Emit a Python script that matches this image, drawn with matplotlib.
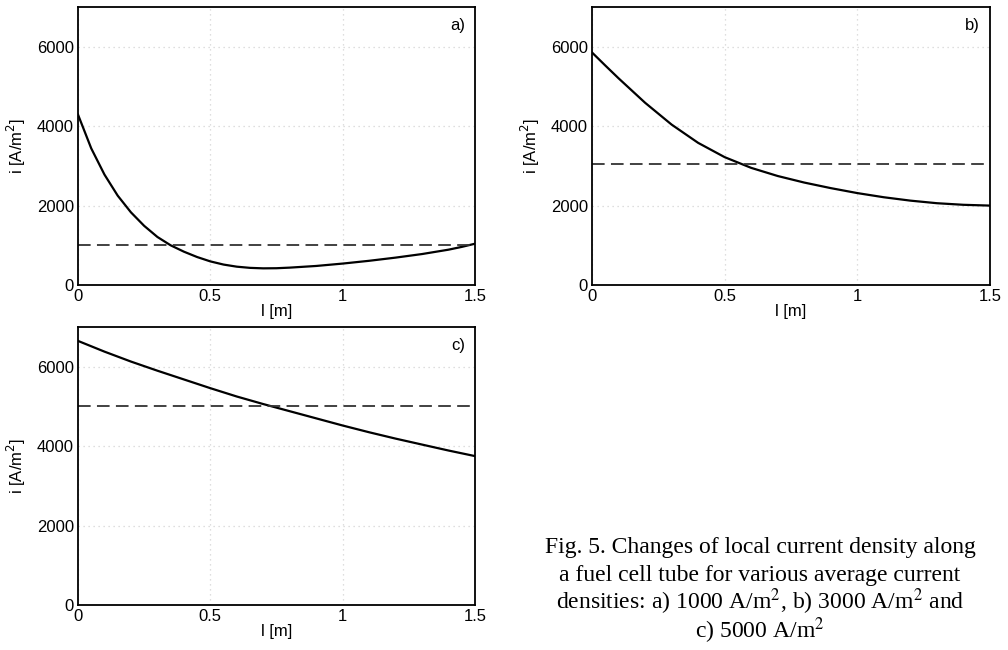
import numpy as np
import matplotlib.pyplot as plt

# data
l_a = [0, 0.05, 0.1, 0.15, 0.2, 0.25, 0.3, 0.35, 0.4, 0.45, 0.5, 0.55, 0.6, 0.65, 0.7,
       0.75, 0.8, 0.9, 1.0, 1.1, 1.2, 1.3, 1.4, 1.45, 1.5]
i_a = [4290, 3440, 2780, 2250, 1830, 1490, 1210, 1000, 840, 705, 595, 515, 462, 432, 420,
       423, 438, 480, 540, 610, 690, 780, 890, 960, 1040]

l_b = [0, 0.05, 0.1, 0.2, 0.3, 0.4, 0.5, 0.6, 0.7, 0.8, 0.9, 1.0, 1.1, 1.2, 1.3, 1.4, 1.5]
i_b = [5856, 5528, 5206, 4590, 4040, 3580, 3220, 2950, 2745, 2580, 2440, 2315, 2210, 2125, 2060, 2020, 2000]

l_c = [0, 0.1, 0.2, 0.3, 0.4, 0.5, 0.6, 0.7, 0.8, 0.9, 1.0, 1.1, 1.2, 1.3, 1.4, 1.5]
i_c = [6650, 6380, 6130, 5900, 5680, 5460, 5250, 5060, 4880, 4700, 4520, 4350, 4190, 4040, 3890, 3750]

avg = [1000, 3050, 5000]
panel_tags = ['a)', 'b)', 'c)']

plt.rcParams['font.family'] = ['Liberation Sans', 'DejaVu Sans']

fig = plt.figure(figsize=(10.08, 6.5), dpi=100)
ax_a = fig.add_axes([0.0774, 0.5615, 0.3938, 0.4277])
ax_b = fig.add_axes([0.5873, 0.5615, 0.3948, 0.4277])
ax_c = fig.add_axes([0.0774, 0.0692, 0.3938, 0.4277])

for ax, l, i, a, tag in zip([ax_a, ax_b, ax_c], [l_a, l_b, l_c], [i_a, i_b, i_c], avg, panel_tags):
    ax.plot(l, i, color='black', lw=1.6, solid_joinstyle='round')
    ax.axhline(a, color='#333333', lw=1.3, dashes=(7, 3.5))
    ax.set_xlim(0, 1.5)
    ax.set_ylim(0, 7000)
    ax.set_xticks([0, 0.5, 1, 1.5])
    ax.set_xticklabels(['0', '0.5', '1', '1.5'])
    ax.set_yticks([0, 2000, 4000, 6000])
    ax.tick_params(length=0, labelsize=12, pad=3)
    ax.grid(True, color='#d4d4d4', linestyle=(0, (1, 3)), lw=0.9)
    ax.set_xlabel('l [m]', fontsize=12, labelpad=0)
    ax.set_ylabel('i [A/m$^2$]', fontsize=12, labelpad=6)
    for s in ax.spines.values():
        s.set_linewidth(1.3)
    ax.text(0.975, 0.935, tag, transform=ax.transAxes, ha='right', va='center', fontsize=12)

caption = ['Fig. 5. Changes of local current density along',
           'a fuel cell tube for various average current',
           'densities: a) 1000 A/m$^2$, b) 3000 A/m$^2$ and',
           'c) 5000 A/m$^2$']
for k, line in enumerate(caption):
    fig.text(760 / 1008, 1 - (553 + k * 28.3) / 650, line, ha='center', va='baseline',
             fontsize=17, family=['Liberation Serif', 'DejaVu Serif'],
             math_fontfamily='stix')

fig.savefig('out.png', dpi=100)
